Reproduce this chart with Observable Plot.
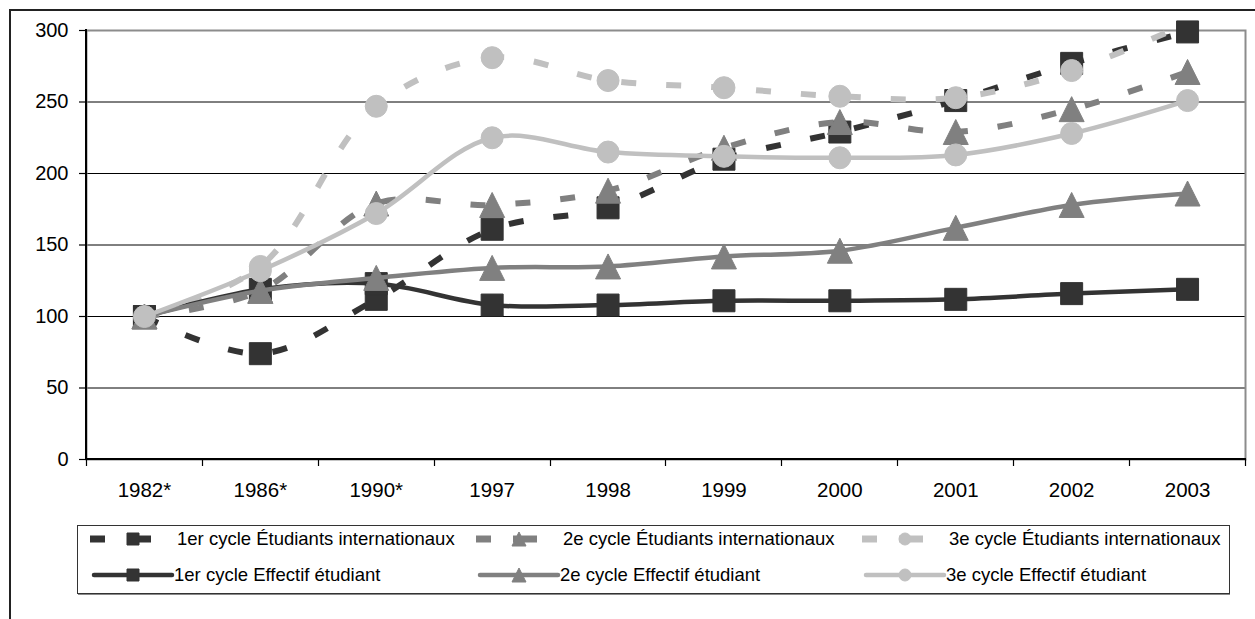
<!DOCTYPE html>
<html>
<head>
<meta charset="utf-8">
<script src="https://cdn.jsdelivr.net/npm/d3@7"></script>
<script src="https://cdn.jsdelivr.net/npm/@observablehq/plot@0.6"></script>
<style>
  body { margin: 0; background: #fff; font-family: "Liberation Sans", Arial, sans-serif; }
  #wrap { position: relative; width: 1255px; height: 619px; overflow: hidden; background: #fff; }
  #chart { position: absolute; left: 0; top: 0; }
  #overlay { position: absolute; left: 0; top: 0; pointer-events: none; }
</style>
</head>
<body>
<div id="wrap">
  <div id="chart"></div>
  <svg id="overlay" width="1255" height="619"></svg>
</div>
<script>
// ---- Data ----
const categories = ["1982*", "1986*", "1990*", "1997", "1998", "1999", "2000", "2001", "2002", "2003"];
const premierIntl   = [100, 74, 112, 161, 176, 210, 229, 251, 277, 299];
const deuxiemeIntl  = [100, 118, 179, 178, 188, 218, 236, 229, 245, 271];
const troisiemeIntl = [100, 135, 247, 281, 265, 260, 254, 253, 272, 305];
const premierEff    = [100, 119, 123, 108, 108, 111, 111, 112, 116, 119];
const deuxiemeEff   = [100, 118, 127, 134, 135, 142, 146, 162, 178, 186];
const troisiemeEff  = [100, 132, 172, 225, 215, 212, 211, 213, 228, 251];
const yTicks = [0, 50, 100, 150, 200, 250, 300];
const seriesLabels = [
  "1er cycle Étudiants internationaux",
  "2e cycle Étudiants internationaux",
  "3e cycle Étudiants internationaux",
  "1er cycle Effectif étudiant",
  "2e cycle Effectif étudiant",
  "3e cycle Effectif étudiant"
];

// ---- Styles ----
const DARK = "#333333", MID = "#808080", LIGHT = "#c0c0c0";
const symSquare = (s) => ({draw(ctx) { const h = s / 2; ctx.moveTo(-h, -h); ctx.lineTo(h, -h); ctx.lineTo(h, h); ctx.lineTo(-h, h); ctx.closePath(); }});
const symTriangle = (w) => ({draw(ctx) { const h = w / 2; ctx.moveTo(0, -h); ctx.lineTo(h, h); ctx.lineTo(-h, h); ctx.closePath(); }});
const symCircle = (d) => ({draw(ctx) { const r = d / 2; ctx.moveTo(r, 0); ctx.arc(0, 0, r, 0, 2 * Math.PI); ctx.closePath(); }});

const series = [
  {values: premierIntl,   color: DARK,  shape: "square",   dashed: true},
  {values: deuxiemeIntl,  color: MID,   shape: "triangle", dashed: true},
  {values: troisiemeIntl, color: LIGHT, shape: "circle",   dashed: true},
  {values: premierEff,    color: DARK,  shape: "square",   dashed: false},
  {values: deuxiemeEff,   color: MID,   shape: "triangle", dashed: false},
  {values: troisiemeEff,  color: LIGHT, shape: "circle",   dashed: false}
];
const bigSym = {square: symSquare(22), triangle: symTriangle(25), circle: symCircle(22)};
const smallSym = {square: symSquare(12), triangle: symTriangle(14), circle: symCircle(12)};

const seriesMarks = series.flatMap((s) => {
  const rows = categories.map((c, i) => ({cat: c, value: s.values[i]}));
  return [
    Plot.line(rows, {
      x: "cat", y: "value", curve: "catmull-rom", clip: true,
      stroke: s.color, strokeWidth: s.dashed ? 6 : 4.5,
      strokeDasharray: s.dashed ? "15,30" : null,
      strokeLinecap: s.dashed ? "butt" : "round"
    }),
    Plot.dot(rows, {
      x: "cat", y: "value", filter: (d) => d.value <= 300,
      symbol: bigSym[s.shape], fill: s.color,
      stroke: s.color, strokeWidth: 1, strokeLinejoin: "round"
    })
  ];
});

const plot = Plot.plot({
  width: 1255,
  height: 510,
  marginLeft: 86,
  marginRight: 10,
  marginTop: 30,
  marginBottom: 51,
  x: {type: "point", domain: categories, padding: 0.5, round: false, label: null},
  y: {domain: [0, 300], label: null},
  style: {fontFamily: "'Liberation Sans', Arial, sans-serif", color: "#000", background: "transparent", overflow: "visible"},
  marks: [
    Plot.gridY(yTicks, {stroke: "#000", strokeOpacity: 1, strokeWidth: 1}),
    Plot.frame({stroke: "#8c8c8c", strokeWidth: 2}),
    Plot.axisY(yTicks, {tickSize: 7, tickPadding: 11, fontSize: 20, label: null, stroke: "#000", strokeWidth: 1.2}),
    Plot.axisX({tickSize: 0, tickPadding: 23, fontSize: 20.5, label: null}),
    ...seriesMarks
  ]
});
document.getElementById("chart").appendChild(plot);

// axis lines and category boundary ticks from the plot's scales
const xs = plot.scale("x"), ys = plot.scale("y");
const step = xs.apply(categories[1]) - xs.apply(categories[0]);
const x0 = xs.apply(categories[0]) - step / 2;
const xEnd = xs.apply(categories[categories.length - 1]) + step / 2;
const yTop = ys.apply(300), yBot = ys.apply(0);
const svg = d3.select(plot);
const g = svg.append("g");
g.append("line").attr("x1", x0).attr("x2", x0).attr("y1", yTop - 1).attr("y2", yBot + 1).attr("stroke", "#000").attr("stroke-width", 2);
g.append("line").attr("x1", x0).attr("x2", xEnd + 1).attr("y1", yBot).attr("y2", yBot).attr("stroke", "#000").attr("stroke-width", 2);
d3.range(categories.length + 1).forEach((i) => {
  const x = Math.round(x0 + i * step) + 0.5;
  g.append("line").attr("x1", x).attr("x2", x).attr("y1", yBot).attr("y2", yBot + 7).attr("stroke", "#000").attr("stroke-width", 1.2);
});

// ---- Overlay: outer frame + legend ----
const ov = d3.select("#overlay");
ov.append("path").attr("d", "M10,640V10H1300").attr("fill", "none").attr("stroke", "#222").attr("stroke-width", 2);
ov.append("rect").attr("x", 77.5).attr("y", 525.5).attr("width", 1152).attr("height", 68)
  .attr("fill", "#fff").attr("stroke", "#333").attr("stroke-width", 1);
ov.append("line").attr("x1", 78).attr("x2", 1230).attr("y1", 594.5).attr("y2", 594.5).attr("stroke", "#888").attr("stroke-width", 1);

const colOffsets = [0, 386, 772];
const rowY = [539, 575];
series.forEach((s, i) => {
  const col = i % 3, row = Math.floor(i / 3);
  const gx = ov.append("g").attr("transform", `translate(${colOffsets[col]},${rowY[row]})`);
  if (s.dashed) {
    gx.append("line").attr("x1", 90).attr("x2", 105).attr("y1", 0).attr("y2", 0).attr("stroke", s.color).attr("stroke-width", 7);
    gx.append("line").attr("x1", 127).attr("x2", 151).attr("y1", 0).attr("y2", 0).attr("stroke", s.color).attr("stroke-width", 7);
  } else {
    gx.append("line").attr("x1", 94).attr("x2", 172).attr("y1", 0).attr("y2", 0).attr("stroke", s.color).attr("stroke-width", 4.5).attr("stroke-linecap", "round");
  }
  const p = d3.path(); smallSym[s.shape].draw(p);
  gx.append("path").attr("transform", "translate(133,0)").attr("d", p.toString()).attr("fill", s.color)
    .attr("stroke", s.color).attr("stroke-width", 1).attr("stroke-linejoin", "round");
  gx.append("text").attr("x", s.dashed ? 177 : 174).attr("y", 0).attr("dy", "0.35em")
    .attr("font-family", "'Liberation Sans', Arial, sans-serif").attr("font-size", 18.5).attr("fill", "#000")
    .text(seriesLabels[i]);
});
</script>
</body>
</html>
